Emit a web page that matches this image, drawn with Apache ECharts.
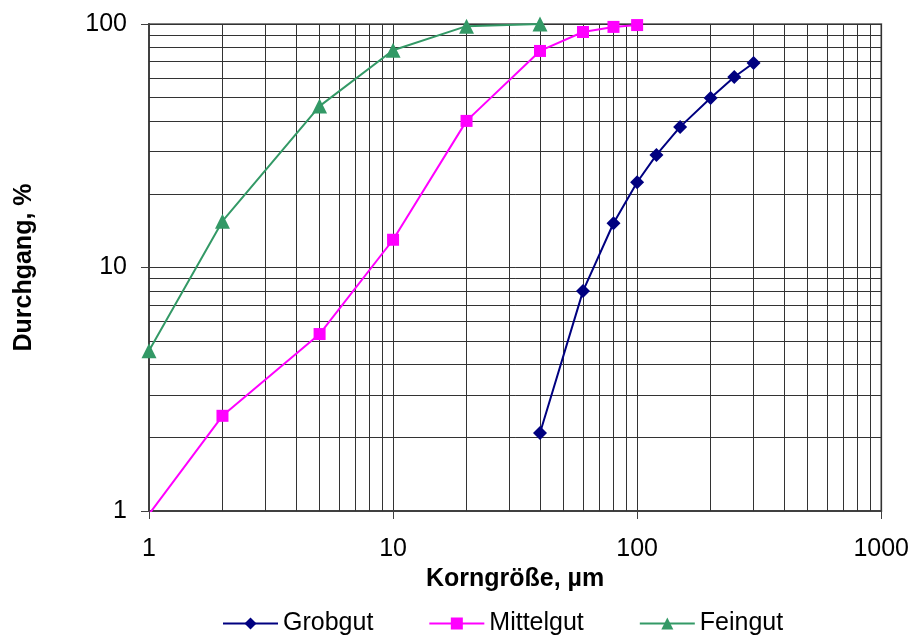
<!DOCTYPE html>
<html><head><meta charset="utf-8">
<script src="https://cdn.jsdelivr.net/npm/echarts@6/dist/echarts.min.js"></script>
<style>html,body{margin:0;padding:0;background:#fff}#c{width:912px;height:635px}</style>
</head><body><div id="c"></div>
<script>
const seriesNames = ['Grobgut', 'Mittelgut', 'Feingut'];
const grobX = [40, 60, 80, 100, 120, 150, 200, 250, 300];
const grobY = [2.09, 8.0, 15.2, 22.4, 29, 37.8, 49.7, 60.6, 69.2];
const mittelX = [1, 2, 5, 10, 20, 40, 60, 80, 100];
const mittelY = [0.97, 2.46, 5.33, 13, 40, 77.5, 92.7, 97.3, 99];
const feinX = [1, 2, 5, 10, 20, 40];
const feinY = [4.55, 15.5, 46, 78, 98, 100];
const xTicks = [1, 10, 100, 1000];
const yTicks = [1, 10, 100];
const minorMult = [2, 3, 4, 5, 6, 7, 8, 9];

const xMinor = [];
xTicks.slice(0, -1).forEach(d => minorMult.forEach(m => xMinor.push(d * m)));
const yMinor = [];
yTicks.slice(0, -1).forEach(d => minorMult.forEach(m => yMinor.push(d * m)));

const colors = ['#000080', '#FF00FF', '#339966'];
const symbols = ['diamond', 'rect', 'triangle'];
const sizes = [14, 12, 15];
const xs = [grobX, mittelX, feinX];
const ys = [grobY, mittelY, feinY];

const gridLine = {color: '#333333', width: 1, type: 'solid'};
const font = 'Liberation Sans, Arial, sans-serif';
const fs = 25;

const series = seriesNames.map((n, i) => ({
  name: n, type: 'line', z: 5,
  data: xs[i].map((x, k) => [x, ys[i][k]]),
  symbol: symbols[i], symbolSize: sizes[i],
  itemStyle: {color: colors[i]},
  lineStyle: {color: colors[i], width: 2},
  clip: true
}));
series.push({
  name: '_grid', type: 'line', data: [], silent: true, z: 1,
  markLine: {
    silent: true, symbol: 'none', label: {show: false},
    lineStyle: gridLine, animation: false,
    data: xMinor.map(v => ({xAxis: v})).concat(yMinor.map(v => ({yAxis: v})))
  }
});

const chart = echarts.init(document.getElementById('c'), null, {renderer: 'canvas'});
chart.setOption({
  animation: false,
  backgroundColor: '#fff',
  grid: {left: 149, right: 29, top: 24, bottom: 124, show: true, borderColor: '#808080', borderWidth: 2},
  legend: {
    data: seriesNames, top: 606, left: 217, itemWidth: 55, itemHeight: 15, itemGap: 55,
    textStyle: {fontFamily: font, fontSize: fs, color: '#000'}
  },
  xAxis: {
    type: 'log', logBase: 10, min: 1, max: 1000,
    name: 'Korngröße, µm', nameLocation: 'middle', nameGap: 50,
    nameTextStyle: {fontFamily: font, fontSize: fs, fontWeight: 'bold', color: '#000'},
    axisLine: {show: true, lineStyle: {color: '#404040', width: 2}},
    axisTick: {show: true, length: 8, lineStyle: {color: '#404040'}},
    axisLabel: {fontFamily: font, fontSize: fs, color: '#000', margin: 26, formatter: v => String(v)},
    splitLine: {show: true, lineStyle: gridLine}
  },
  yAxis: {
    type: 'log', logBase: 10, min: 1, max: 100,
    name: 'Durchgang, %', nameLocation: 'middle', nameGap: 112, nameRotate: 90,
    nameTextStyle: {fontFamily: font, fontSize: fs, fontWeight: 'bold', color: '#000'},
    axisLine: {show: true, lineStyle: {color: '#404040', width: 2}},
    axisTick: {show: true, length: 8, lineStyle: {color: '#404040'}},
    axisLabel: {fontFamily: font, fontSize: fs, color: '#000', margin: 22, formatter: v => String(v)},
    splitLine: {show: true, lineStyle: gridLine}
  },
  series: series
});
</script></body></html>
